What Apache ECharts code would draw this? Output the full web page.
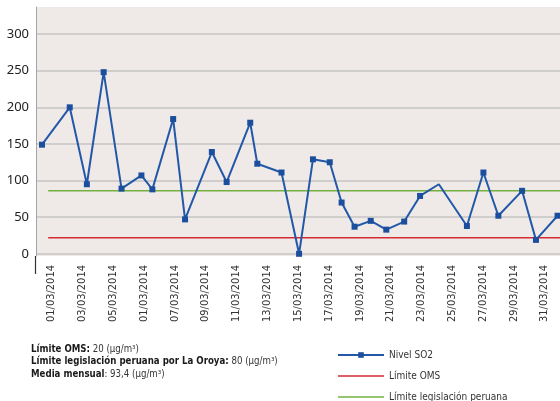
<!DOCTYPE html>
<html>
<head>
<meta charset="utf-8">
<script src="https://cdn.jsdelivr.net/npm/echarts@6/dist/echarts.min.js"></script>
<style>
html,body{margin:0;padding:0;background:#fff;}
#chart{width:560px;height:401px;}
</style>
</head>
<body>
<div id="chart"></div>
<script>
// Tick labels of the category (date) axis
var dateLabels = ['01/03/2014','03/03/2014','05/03/2014','01/03/2014','07/03/2014','09/03/2014','11/03/2014','13/03/2014','15/03/2014','17/03/2014','19/03/2014','21/03/2014','23/03/2014','25/03/2014','27/03/2014','29/03/2014','31/03/2014'];
// Nivel SO2 — x position in day units (2 units per date label), value in µg/m3
var so2X = [0.39, 2.19, 3.30, 4.39, 5.55, 6.84, 7.55, 8.90, 9.67, 11.41, 12.37, 13.90, 14.36, 15.93, 17.07, 17.97, 19.06, 19.83, 20.67, 21.72, 22.73, 23.89, 24.92, 26.14, 27.96, 29.03, 30.00, 31.54, 32.44, 33.84];
var so2Values = [149, 200, 95, 248, 89, 107, 88, 184, 47, 139, 98, 179, 123, 111, 0, 129, 125, 70, 37, 45, 33, 44, 79, 95, 38, 111, 52, 86, 19, 52];
var so2NoMarker = [23];
// Limit lines
var limitX = [0.79, 34];
var omsValues = [22, 22];
var peruValues = [86, 86];
// Y tick labels
var yTicks = [0, 50, 100, 150, 200, 250, 300];

var seriesNames = ['Nivel SO2', 'Límite OMS', 'Límite legislación peruana'];
var notes = [
  ['Límite OMS:', ' 20 (µg/m³)'],
  ['Límite legislación peruana por La Oroya:', ' 80 (µg/m³)'],
  ['Media mensual', ': 93,4 (µg/m³)']
];

var narrow = "'Liberation Sans Narrow', 'DejaVu Sans Condensed', 'Noto Sans', sans-serif";
var lineIcon = 'path://M0,0H46V1.6H0Z';

var chart = echarts.init(document.getElementById('chart'), null, {renderer: 'canvas'});

function pairs(xs, ys) { return xs.map(function (x, i) { return [x, ys[i]]; }); }

var so2Data = so2X.map(function (x, i) {
  var d = {value: [x, so2Values[i]]};
  if (so2NoMarker.indexOf(i) >= 0) d.symbol = 'none';
  return d;
});

var noteGraphics = notes.map(function (n, i) {
  return {
    type: 'text',
    left: 31,
    top: 344 + i * 12.5,
    silent: true,
    style: {
      text: '{b|' + n[0] + '}{r|' + n[1] + '}',
      rich: {
        b: {fontFamily: narrow, fontSize: 9.6, fontWeight: 'bold', fill: '#1a1a1a'},
        r: {fontFamily: narrow, fontSize: 9.6, fill: '#333'}
      }
    }
  };
});

chart.setOption({
  animation: false,
  backgroundColor: '#ffffff',
  grid: {
    left: 36, top: 7, right: -4.5, bottom: 145,
    show: true, backgroundColor: '#efeae8', borderWidth: 0
  },
  legend: {
    data: [
      {name: seriesNames[0]},
      {name: seriesNames[1], icon: lineIcon},
      {name: seriesNames[2], icon: lineIcon}
    ],
    orient: 'vertical',
    left: 337,
    top: 349,
    height: 70,
    padding: 0,
    itemWidth: 46,
    itemHeight: 7,
    itemGap: 9,
    selectedMode: false,
    textStyle: {fontFamily: narrow, fontSize: 10, color: '#333', lineHeight: 12}
  },
  xAxis: [
    {
      type: 'category', data: dateLabels, boundaryGap: true,
      axisLine: {show: false}, axisTick: {show: false}, splitLine: {show: false},
      axisLabel: {rotate: 90, interval: 0, margin: 9, fontSize: 11, color: '#333', fontFamily: narrow}
    },
    {type: 'value', min: 0, max: 34, show: false}
  ],
  yAxis: {
    type: 'value', min: -3, max: 337, splitNumber: 7,
    axisLine: {show: true, lineStyle: {color: '#a5a5a5', width: 1}},
    axisTick: {show: false},
    axisLabel: {
      showMinLabel: false, showMaxLabel: false, margin: 7,
      fontSize: 13, color: '#222', fontFamily: "'Noto Sans', 'Open Sans', sans-serif",
      formatter: function (v) { return yTicks.indexOf(v) >= 0 ? String(v) : ''; }
    },
    splitLine: {show: true, showMinLine: false, showMaxLine: false, lineStyle: {color: '#c6c4c3', width: 1.5}}
  },
  graphic: [
    {type: 'line', silent: true, shape: {x1: 35.5, y1: 256, x2: 35.5, y2: 274}, style: {stroke: '#333', lineWidth: 1.2}}
  ].concat(noteGraphics),
  series: [
    {
      name: seriesNames[1], type: 'line', xAxisIndex: 1, data: pairs(limitX, omsValues),
      symbol: 'none', lineStyle: {color: '#d62a30', width: 1.5}, itemStyle: {color: '#d62a30'}, z: 2
    },
    {
      name: seriesNames[2], type: 'line', xAxisIndex: 1, data: pairs(limitX, peruValues),
      symbol: 'none', lineStyle: {color: '#74b03e', width: 1.5}, itemStyle: {color: '#74b03e'}, z: 2
    },
    {
      name: seriesNames[0], type: 'line', xAxisIndex: 1, data: so2Data,
      symbol: 'rect', symbolSize: 6, showAllSymbol: true,
      lineStyle: {color: '#2358a8', width: 2}, itemStyle: {color: '#1b4f9e'}, z: 3
    }
  ]
});
</script>
</body>
</html>
